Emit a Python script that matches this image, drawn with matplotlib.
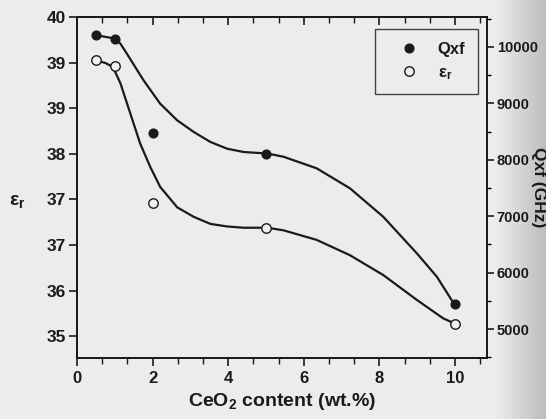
import numpy as np
import matplotlib.pyplot as plt
from matplotlib.ticker import FixedLocator, AutoMinorLocator
from matplotlib.lines import Line2D

plt.rcParams['font.family'] = ['Liberation Sans', 'DejaVu Sans']
plt.rcParams['font.weight'] = 'bold'
plt.rcParams['axes.labelweight'] = 'bold'
plt.rcParams['mathtext.fontset'] = 'custom'
plt.rcParams['mathtext.rm'] = 'Liberation Sans:bold'
plt.rcParams['mathtext.it'] = 'Liberation Sans:bold'
plt.rcParams['mathtext.bf'] = 'Liberation Sans:bold'

# measured points
ceo2 = [0.5, 1, 2, 5, 10]
qf = [10210, 10150, 8470, 8110, 5440]
er = [39.32, 39.24, 37.08, 36.70, 35.20]

# guide-to-the-eye curves
qf_fit_x = [0.5, 1.0, 1.15, 1.32, 1.54, 1.76, 2.2, 2.65, 3.09, 3.53, 3.97, 4.41,
            5.03, 5.46, 6.34, 7.22, 8.1, 8.99, 9.52, 9.91, 10.0]
qf_fit = [10210, 10150, 10058, 9881, 9645, 9410, 8995, 8700, 8493, 8316, 8197, 8138,
          8112, 8055, 7849, 7495, 6991, 6342, 5927, 5514, 5440]
er_fit_x = [0.5, 0.75, 0.88, 1.01, 1.15, 1.41, 1.67, 1.94, 2.2, 2.65, 3.09, 3.53,
            3.97, 4.41, 5.03, 5.46, 6.34, 7.22, 8.1, 8.99, 9.69, 10.0]
er_fit = [39.32, 39.28, 39.24, 39.14, 38.96, 38.49, 38.02, 37.65, 37.34, 37.02, 36.87, 36.76,
          36.72, 36.70, 36.70, 36.66, 36.51, 36.27, 35.96, 35.57, 35.28, 35.20]

# left axis labels as printed (evenly spaced between 40 and 35)
er_tick_labels = ['40', '39', '39', '38', '37', '37', '36', '35']
qf_ticks = [5000, 6000, 7000, 8000, 9000, 10000]
x_ticks = [0, 2, 4, 6, 8, 10]

ink = '#1a1a1a'

fig = plt.figure(figsize=(5.46, 4.19), dpi=100)

# scanned-page background, darker towards the right edge
bg = fig.add_axes([0, 0, 1, 1], zorder=-5)
ramp = np.ones(546) * 0.925
ramp[495:] = np.linspace(0.925, 0.74, 51)
bg.imshow(np.tile(ramp, (10, 1)), cmap='gray', vmin=0, vmax=1, aspect='auto',
          extent=[0, 1, 0, 1])
bg.axis('off')

ax = fig.add_axes([77/546, 1 - 358/419, 410/546, 341/419])
ax.patch.set_alpha(0)
ax2 = ax.twinx()

ax.plot(er_fit_x, er_fit, color=ink, lw=1.6, zorder=2)
ax2.plot(qf_fit_x, qf_fit, color=ink, lw=1.6, zorder=2)
ax.plot(ceo2, er, 'o', ms=6.8, mfc='#f0f0f0', mec=ink, mew=1.0, zorder=3)
ax2.plot(ceo2, qf, 'o', ms=6.3, color=ink, zorder=3)

ax.set_xlim(0, 410/37.8)
ax.set_ylim(40 - 341/63.86, 40)
ax2.set_ylim(10000 - (358-47)/56.4*1000, 10000 + 30/56.4*1000)

ax.set_xticks(x_ticks)
ax.xaxis.set_minor_locator(AutoMinorLocator(3))
ax.yaxis.set_major_locator(FixedLocator(np.linspace(40, 35, 8)))
ax.set_yticklabels(er_tick_labels)
ax2.set_yticks(qf_ticks)
ax2.yaxis.set_minor_locator(AutoMinorLocator(2))

# top ticks point inward
top = ax.secondary_xaxis('top')
top.set_xticks(x_ticks)
top.xaxis.set_minor_locator(AutoMinorLocator(3))
top.tick_params(which='both', direction='in', labeltop=False, colors=ink)
top.tick_params(which='major', length=6, width=1.2)
top.tick_params(which='minor', length=4, width=1.0)

ax.tick_params(axis='x', which='both', direction='out', labelsize=12, colors=ink, pad=3)
ax.tick_params(axis='x', which='major', length=6, width=1.2)
ax.tick_params(axis='x', which='minor', length=4, width=1.0)
ax.tick_params(axis='y', which='major', direction='out', length=6, width=1.2,
               labelsize=12.5, colors=ink, pad=2)
ax2.tick_params(axis='y', which='major', direction='out', length=5, width=1.2,
                labelsize=10.5, colors=ink, pad=2)
ax2.tick_params(axis='y', which='minor', direction='out', length=3, width=1.0)
for a in (ax, ax2, top):
    for s in a.spines.values():
        s.set_color(ink)
        s.set_linewidth(1.3)

ax.set_xlabel('CeO$_2$ content (wt.%)', fontsize=14, color=ink, labelpad=4)
ax.set_ylabel(r'$\mathrm{ε_r}$', fontsize=14, color=ink, rotation=0, ha='center', va='center')
ax.yaxis.set_label_coords(-0.146, 0.46)
ax2.set_ylabel('Qxf (GHz)', fontsize=12.5, color=ink, rotation=270, ha='center', va='center')
ax2.yaxis.set_label_coords(1.125, 0.5)

handles = [Line2D([], [], ls='none', marker='o', ms=6.3, color=ink),
           Line2D([], [], ls='none', marker='o', ms=6.8, mfc='#f0f0f0', mec=ink, mew=1.0)]
leg = ax2.legend(handles, ['Qxf', r'$\mathrm{ε_r}$'], loc='upper right',
                 bbox_to_anchor=(0.978, 0.964), frameon=True, fancybox=False,
                 fontsize=12, handlelength=2.6, handletextpad=0.44, labelspacing=0.5,
                 borderpad=0.75, borderaxespad=0)
frame = leg.get_frame()
frame.set_edgecolor(ink)
frame.set_linewidth(1.0)
frame.set_facecolor('none')
for t in leg.get_texts():
    t.set_color(ink)

fig.savefig('out.png', dpi=100)
